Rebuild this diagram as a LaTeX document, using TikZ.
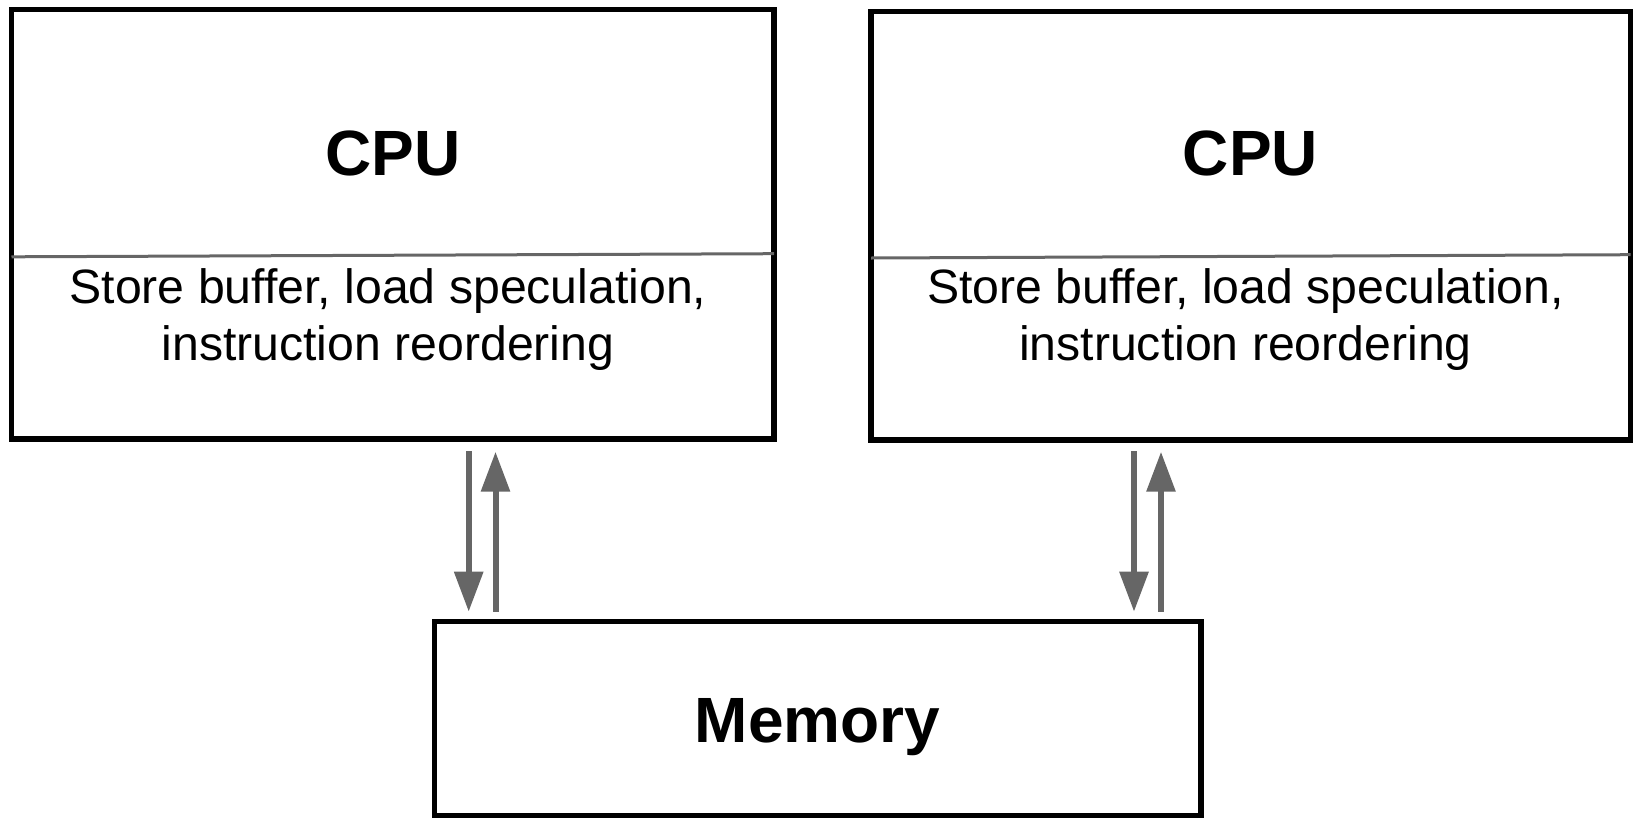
\documentclass[tikz,border=0pt]{standalone}
\usepackage{fontspec}
\setmainfont{Liberation Sans}
\usetikzlibrary{arrows.meta,calc}
\definecolor{linkgray}{HTML}{666666}

\begin{document}
\begin{tikzpicture}[x=1pt,y=-1pt,
  unit/.style={draw=black,line width=5.5pt,inner sep=0pt,outer sep=0pt},
  divider/.style={draw=linkgray,line width=3pt},
  flow/.style={draw=linkgray,line width=6pt,-{Triangle[length=40pt,width=28pt]}},
  title/.style={font=\bfseries\fontsize{64}{77}\selectfont,inner sep=0pt},
  detail/.style={font=\fontsize{48.2}{58}\selectfont,inner sep=0pt,anchor=base}
]
\useasboundingbox (0,0) rectangle (1633,817);

% processor blocks and shared memory
\node[unit,minimum width=762.5pt,minimum height=429.5pt] (cpuL) at (392.75,224.25) {};
\node[unit,minimum width=759.5pt,minimum height=428.5pt] (cpuR) at (1250.75,225.75) {};
\node[unit,minimum width=766.5pt,minimum height=194pt] (mem) at (817.75,718.5) {};

% split between core label and reordering details
\draw[divider] ($(cpuL.north west)+(0,247.3)$) -- ($(cpuL.north east)+(0,244.2)$);
\draw[divider] ($(cpuR.north west)+(0,246.5)$) -- ($(cpuR.north east)+(0,243.2)$);

% labels
\node[title,anchor=base] (cpuLt) at (392.75,175) {CPU};
\node[title,anchor=base] (cpuRt) at (1250.5,175) {CPU};
\node[title,anchor=base] (memt) at (817.5,742.5) {Memory};

\node[detail] (cpuLa) at (388,303) {Store buffer, load speculation,};
\node[detail] (cpuLb) at (388,360.5) {instruction reordering};
\node[detail] (cpuRa) at (1245.5,303) {Store buffer, load speculation,};
\node[detail] (cpuRb) at (1245.5,360.5) {instruction reordering};

% traffic between each CPU and memory
\coordinate (lDownTop) at (468.7,451);
\coordinate (lDownBot) at (468.7,611.7);
\coordinate (lUpBot) at (495.5,611.7);
\coordinate (lUpTop) at (495.5,451.7);
\coordinate (rDownTop) at (1134,451);
\coordinate (rDownBot) at (1134,611.7);
\coordinate (rUpBot) at (1161,611.7);
\coordinate (rUpTop) at (1161,451.7);

\draw[flow] (lDownTop) -- (lDownBot);
\draw[flow] (lUpBot) -- (lUpTop);
\draw[flow] (rDownTop) -- (rDownBot);
\draw[flow] (rUpBot) -- (rUpTop);
\end{tikzpicture}
\end{document}
